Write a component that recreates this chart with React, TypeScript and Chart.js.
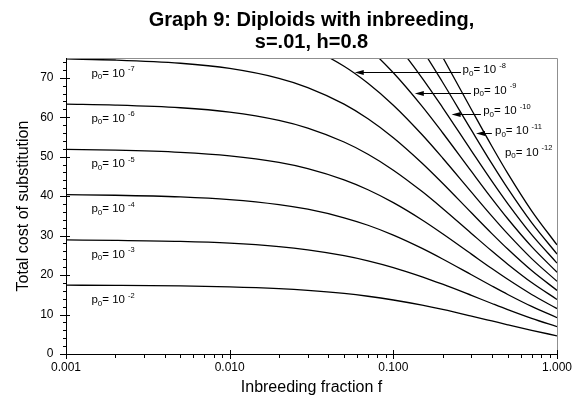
import React, { useEffect, useRef } from 'react';
import { Chart, registerables } from 'chart.js';

Chart.register(...registerables);

// Inbreeding fraction f (x values)
const fValues = [0.001, 0.002, 0.005, 0.01, 0.02, 0.03, 0.05, 0.07, 0.1, 0.15, 0.2, 0.3, 0.4, 0.5, 0.7, 1.0];

// Total cost of substitution for each starting frequency p0
const costP2 = [17.43, 17.38, 17.24, 17.0, 16.55, 16.12, 15.34, 14.63, 13.68, 12.37, 11.29, 9.61, 8.37, 7.4, 5.99, 4.61];
const costP3 = [28.9, 28.8, 28.52, 28.07, 27.21, 26.4, 24.93, 23.62, 21.91, 19.56, 17.68, 14.85, 12.8, 11.24, 9.02, 6.91];
const costP4 = [40.37, 40.23, 39.81, 39.14, 37.87, 36.68, 34.52, 32.62, 30.13, 26.76, 24.08, 20.08, 17.23, 15.08, 12.05, 9.21];
const costP5 = [51.83, 51.65, 51.1, 50.21, 48.53, 46.96, 44.12, 41.61, 38.35, 33.96, 30.47, 25.31, 21.65, 18.92, 15.08, 11.51];
const costP6 = [63.3, 63.07, 62.39, 61.28, 59.19, 57.24, 53.71, 50.61, 46.58, 41.15, 36.87, 30.55, 26.08, 22.76, 18.11, 13.82];
const costP7 = [74.77, 74.49, 73.67, 72.35, 69.85, 67.52, 63.31, 59.6, 54.8, 48.34, 43.27, 35.78, 30.51, 26.59, 21.14, 16.12];
const costP8 = [86.23, 85.91, 84.96, 83.42, 80.51, 77.8, 72.9, 68.59, 63.03, 55.54, 49.66, 41.01, 34.94, 30.43, 24.17, 18.42];
const costP9 = [97.7, 97.33, 96.25, 94.49, 91.17, 88.08, 82.49, 77.59, 71.25, 62.74, 56.06, 46.25, 39.37, 34.27, 27.2, 20.72];
const costP10 = [109.17, 108.76, 107.54, 105.56, 101.83, 98.36, 92.09, 86.58, 79.47, 69.93, 62.45, 51.48, 43.8, 38.11, 30.23, 23.03];
const costP11 = [120.64, 120.18, 118.82, 116.63, 112.49, 108.64, 101.68, 95.58, 87.7, 77.13, 68.85, 56.71, 48.22, 41.94, 33.26, 25.33];
const costP12 = [132.1, 131.6, 130.1, 127.7, 123.15, 118.92, 111.28, 104.57, 95.92, 84.32, 75.25, 61.95, 52.65, 45.78, 36.29, 27.63];

const allSeries = [costP2, costP3, costP4, costP5, costP6, costP7, costP8, costP9, costP10, costP11, costP12];

// Axis tick labels
const xDecades = [0.001, 0.01, 0.1, 1];
const yMajorTicks = [0, 10, 20, 30, 40, 50, 60, 70];

// Curve labels (exponent of p0)
const leftLabelExp = [-7, -6, -5, -4, -3, -2];
const leftLabelF = 0.00143;
const leftLabelY = [71.3, 59.8, 48.3, 36.9, 25.4, 13.9];

const rightLabelExp = [-8, -9, -10, -11, -12];
const rightLabelF = [0.265, 0.3076, 0.354, 0.418, 0.481];
const rightLabelY = [72.1, 67.0, 61.7, 56.7, 51.3];

const arrowTailF = [0.259, 0.298, 0.343, 0.4];
const arrowTipF = [0.0581, 0.1353, 0.227, 0.32];
const arrowY = [71.5, 66.1, 60.9, 56.0];

const FONT = '"Liberation Sans", Arial, Helvetica, sans-serif';

function drawPLabel(ctx: CanvasRenderingContext2D, x: number, yc: number, exp: number) {
  ctx.textAlign = 'left';
  ctx.textBaseline = 'alphabetic';
  ctx.fillStyle = '#000';
  const base = yc + 4;
  ctx.font = `11.5px ${FONT}`;
  ctx.fillText('p', x, base);
  let cx = x + ctx.measureText('p').width;
  ctx.font = `8px ${FONT}`;
  ctx.fillText('0', cx, base + 2.5);
  cx += ctx.measureText('0').width;
  ctx.font = `11.5px ${FONT}`;
  ctx.fillText('= 10', cx, base);
  cx += ctx.measureText('= 10').width + 3;
  ctx.font = `7.5px ${FONT}`;
  ctx.fillText(String(exp), cx, base - 5.5);
}

export default function App() {
  const ref = useRef<HTMLCanvasElement>(null);

  useEffect(() => {
    document.body.style.margin = '0';
    const canvas = ref.current;
    if (!canvas) return;

    const decor = {
      id: 'decor',
      afterDatasetsDraw(chart: any) {
        const { ctx, chartArea: a, scales } = chart;
        const xs = scales.x;
        const ys = scales.y;
        ctx.save();
        // top & right frame (gray)
        ctx.strokeStyle = '#8f8f8f';
        ctx.lineWidth = 1;
        ctx.beginPath();
        ctx.moveTo(a.left, a.top + 0.5);
        ctx.lineTo(a.right + 0.5, a.top + 0.5);
        ctx.lineTo(a.right + 0.5, a.bottom);
        ctx.stroke();
        // left & bottom axes
        ctx.strokeStyle = '#000';
        ctx.beginPath();
        ctx.moveTo(a.left + 0.5, a.top);
        ctx.lineTo(a.left + 0.5, a.bottom + 0.5);
        ctx.lineTo(a.right + 0.5, a.bottom + 0.5);
        ctx.stroke();
        // y ticks
        ctx.beginPath();
        for (let v = 0; v <= 75; v += 2) {
          const py = Math.round(ys.getPixelForValue(v)) + 0.5;
          ctx.moveTo(a.left - 3, py);
          ctx.lineTo(a.left + 0.5, py);
        }
        yMajorTicks.forEach((v) => {
          const py = Math.round(ys.getPixelForValue(v)) + 0.5;
          ctx.moveTo(a.left - 6, py);
          ctx.lineTo(a.left + 4, py);
        });
        // x ticks
        xDecades.forEach((d, i) => {
          const px = Math.round(xs.getPixelForValue(d)) + 0.5;
          ctx.moveTo(px, a.bottom - 4);
          ctx.lineTo(px, a.bottom + 5);
          if (i < xDecades.length - 1) {
            for (let m = 2; m <= 9; m++) {
              const mx = Math.round(xs.getPixelForValue(d * m)) + 0.5;
              ctx.moveTo(mx, a.bottom);
              ctx.lineTo(mx, a.bottom + 4);
            }
          }
        });
        ctx.stroke();

        // left labels
        leftLabelExp.forEach((e, i) => {
          drawPLabel(ctx, xs.getPixelForValue(leftLabelF), ys.getPixelForValue(leftLabelY[i]), e);
        });
        // right labels
        rightLabelExp.forEach((e, i) => {
          drawPLabel(ctx, xs.getPixelForValue(rightLabelF[i]), ys.getPixelForValue(rightLabelY[i]), e);
        });
        // arrows
        ctx.strokeStyle = '#000';
        ctx.fillStyle = '#000';
        ctx.lineWidth = 1;
        arrowTipF.forEach((tf, i) => {
          const tx = xs.getPixelForValue(tf);
          const sx = xs.getPixelForValue(arrowTailF[i]);
          const py = Math.round(ys.getPixelForValue(arrowY[i])) + 0.5;
          ctx.beginPath();
          ctx.moveTo(sx, py);
          ctx.lineTo(tx + 6, py);
          ctx.stroke();
          ctx.beginPath();
          ctx.moveTo(tx, py);
          ctx.lineTo(tx + 9, py - 2.5);
          ctx.lineTo(tx + 9, py + 2.5);
          ctx.closePath();
          ctx.fill();
        });
        ctx.restore();
      },
    };

    const datasets = allSeries.map((vals, i) => ({
      label: `p0=1e-${i + 2}`,
      data: fValues.map((f, j) => ({ x: f, y: vals[j] })),
      borderColor: '#000',
      backgroundColor: '#000',
      borderWidth: 1.3,
      pointRadius: 0,
      fill: false,
      cubicInterpolationMode: 'monotone' as const,
    }));

    const chart = new Chart(canvas, {
      type: 'line',
      data: { datasets },
      plugins: [decor],
      options: {
        animation: false,
        responsive: false,
        maintainAspectRatio: false,
        layout: { padding: { left: 0, right: 29, top: 0, bottom: 0 } },
        plugins: {
          legend: { display: false },
          tooltip: { enabled: false },
          title: {
            display: true,
            fullSize: false,
            text: ['Graph 9: Diploids with inbreeding,', 's=.01, h=0.8'],
            color: '#000',
            font: { family: FONT, size: 20, weight: 'bold', lineHeight: 1.1 },
            padding: { top: 9, bottom: 5 },
          },
        },
        scales: {
          x: {
            type: 'logarithmic',
            min: 0.001,
            max: 1,
            grid: { display: false, drawTicks: false },
            border: { display: false },
            afterBuildTicks: (scale: any) => {
              scale.ticks = xDecades.map((v) => ({ value: v }));
            },
            afterFit: (scale: any) => {
              scale.height = 47;
            },
            ticks: {
              autoSkip: false,
              maxRotation: 0,
              padding: 6.8,
              color: '#000',
              font: { family: FONT, size: 12 },
              callback: (v: any) => Number(v).toFixed(3),
            },
            title: {
              display: true,
              text: 'Inbreeding fraction f',
              color: '#000',
              font: { family: FONT, size: 16 },
              padding: { top: 0, bottom: 3.4 },
            },
          },
          y: {
            type: 'linear',
            min: 0,
            max: 75,
            grid: { display: false, drawTicks: false },
            border: { display: false },
            afterBuildTicks: (scale: any) => {
              scale.ticks = yMajorTicks.map((v) => ({ value: v }));
            },
            afterFit: (scale: any) => {
              scale.width = 66;
            },
            ticks: {
              padding: 12.5,
              color: '#000',
              font: { family: FONT, size: 12 },
            },
            title: {
              display: true,
              text: 'Total cost of substitution',
              color: '#000',
              font: { family: FONT, size: 16 },
              padding: { top: 14.4, bottom: 0 },
            },
          },
        },
      },
    });
    return () => chart.destroy();
  }, []);

  return (
    <div style={{ position: 'absolute', left: 0, top: 0, width: 586, height: 401, background: '#fff' }}>
      <canvas ref={ref} width={586} height={401} style={{ width: 586, height: 401, display: 'block' }} />
    </div>
  );
}
